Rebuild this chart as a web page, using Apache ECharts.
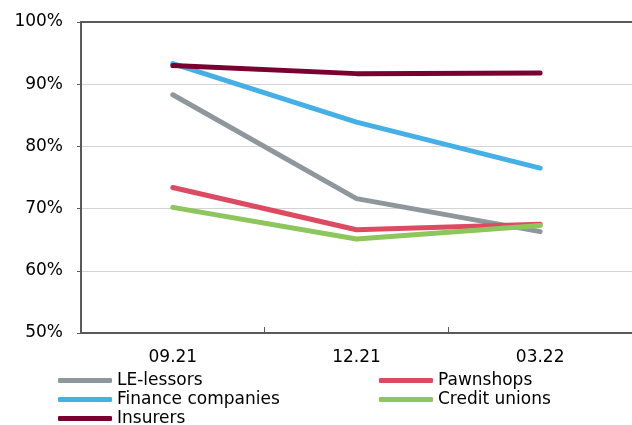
<!DOCTYPE html>
<html>
<head>
<meta charset="utf-8">
<script src="https://cdn.jsdelivr.net/npm/echarts@6/dist/echarts.min.js"></script>
<style>
  html, body { margin: 0; padding: 0; background: #fff; }
  #chart { width: 632px; height: 425px; }
</style>
</head>
<body>
<div id="chart"></div>
<script>
// Quarter labels on the horizontal axis
const categories = ['09.21', '12.21', '03.22'];

// Share per sector, in percent
const leLessors = [88.3, 71.6, 66.3];
const financeCompanies = [93.3, 83.9, 76.5];
const pawnshops = [73.4, 66.6, 67.5];
const creditUnions = [70.2, 65.1, 67.3];
const insurers = [93.0, 91.7, 91.8];

const yTicks = { min: 50, max: 100, interval: 10 };

const font = 'DejaVu Sans, Verdana, sans-serif';

function lineSeries(name, data, color) {
  return {
    name: name,
    type: 'line',
    data: data,
    symbol: 'none',
    lineStyle: { width: 5, color: color, cap: 'round', join: 'round' },
    itemStyle: { color: color },
    emphasis: { disabled: true },
    animation: false
  };
}

const legendCommon = {
  orient: 'vertical',
  top: 371,
  height: 70,
  icon: 'roundRect',
  itemWidth: 54,
  itemHeight: 5,
  itemGap: 0,
  padding: 0,
  textStyle: { fontFamily: font, fontSize: 17, color: '#000', lineHeight: 19, padding: [0, 0, 0, 0] },
  selectedMode: false
};

const chart = echarts.init(document.getElementById('chart'), null, { renderer: 'canvas' });
chart.setOption({
  backgroundColor: '#fff',
  animation: false,
  grid: { left: 81, top: 22, width: 552, height: 311 },
  legend: [
    Object.assign({}, legendCommon, { left: 58, data: ['LE-lessors', 'Finance companies', 'Insurers'] }),
    Object.assign({}, legendCommon, { left: 379, data: ['Pawnshops', 'Credit unions'] })
  ],
  xAxis: [
    {
      type: 'category',
      data: categories,
      boundaryGap: true,
      axisLine: { show: true, lineStyle: { color: '#595959', width: 2 } },
      axisTick: { show: true, inside: true, length: 6, lineStyle: { color: '#595959', width: 1 } },
      axisLabel: { fontFamily: font, fontSize: 17, color: '#000', margin: 16 },
      splitLine: { show: false }
    },
    {
      type: 'category',
      position: 'top',
      data: categories,
      axisLine: { show: true, lineStyle: { color: '#595959', width: 2 } },
      axisTick: { show: false },
      axisLabel: { show: false },
      splitLine: { show: false }
    }
  ],
  yAxis: {
    type: 'value',
    min: yTicks.min,
    max: yTicks.max,
    interval: yTicks.interval,
    axisLine: { show: true, lineStyle: { color: '#595959', width: 2 } },
    axisTick: { show: true, length: 4, lineStyle: { color: '#595959', width: 1 } },
    axisLabel: { fontFamily: font, fontSize: 17, color: '#000', margin: 18, padding: [4, 0, 0, 0], formatter: '{value}%' },
    splitLine: { show: true, lineStyle: { color: '#D4D4D4', width: 1 } }
  },
  series: [
    lineSeries('LE-lessors', leLessors, '#8E979B'),
    lineSeries('Finance companies', financeCompanies, '#45B0E6'),
    lineSeries('Pawnshops', pawnshops, '#DD4B63'),
    lineSeries('Credit unions', creditUnions, '#8CC65C'),
    lineSeries('Insurers', insurers, '#7A0030')
  ]
});
</script>
</body>
</html>
